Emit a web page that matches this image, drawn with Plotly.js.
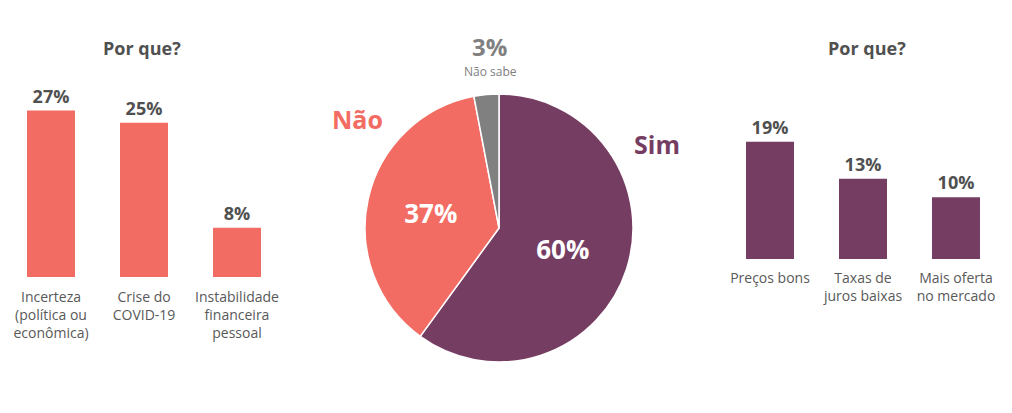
<!DOCTYPE html>
<html>
<head>
<meta charset="utf-8">
<script src="https://cdn.plot.ly/plotly-3.0.1.min.js"></script>
<style>html,body{margin:0;padding:0;background:#fff;}#chart{width:1012px;height:413px;}</style>
</head>
<body>
<div id="chart"></div>
<script>
// ---- data ----
const leftTitle = 'Por que?';
const leftCategories = ['Incerteza<br>(política ou<br>econômica)', 'Crise do<br>COVID-19', 'Instabilidade<br>financeira<br>pessoal'];
const leftValues = [27, 25, 8];

const pieLabels = ['Sim', 'Não', 'Não sabe'];
const pieValues = [60, 37, 3];

const rightTitle = 'Por que?';
const rightCategories = ['Preços bons', 'Taxas de<br>juros baixas', 'Mais oferta<br>no mercado'];
const rightValues = [19, 13, 10];

// ---- styles ----
const SALMON = '#F26C63';
const PURPLE = '#763D63';
const GREY = '#808080';
const DARK = '#505050';
const FONT = 'Open Sans, sans-serif';
const W = 1012, H = 413;
const px = v => v / W;
const py = v => (H - v) / H;

const traces = [
  {
    type: 'bar', x: leftCategories, y: leftValues, xaxis: 'x', yaxis: 'y',
    marker: {color: SALMON}, texttemplate: '%{y}%', textposition: 'outside',
    textfont: {family: FONT, size: 18, color: DARK, weight: 'bold'},
    cliponaxis: false, hoverinfo: 'skip'
  },
  {
    type: 'bar', x: rightCategories, y: rightValues, xaxis: 'x2', yaxis: 'y2',
    marker: {color: PURPLE}, texttemplate: '%{y}%', textposition: 'outside',
    textfont: {family: FONT, size: 18, color: DARK, weight: 'bold'},
    cliponaxis: false, hoverinfo: 'skip'
  },
  {
    type: 'pie', labels: pieLabels, values: pieValues, sort: false,
    direction: 'clockwise', rotation: 0,
    marker: {colors: [PURPLE, SALMON, GREY], line: {color: '#ffffff', width: 1.5}},
    texttemplate: '%{value}%', textposition: ['inside', 'inside', 'none'],
    insidetextorientation: 'horizontal',
    textfont: {family: FONT, size: 26, color: '#ffffff', weight: 'bold'},
    domain: {x: [px(365), px(633)], y: [py(362), py(94)]},
    showlegend: false, hoverinfo: 'skip'
  }
];

const axisX = {
  type: 'category', showgrid: false, zeroline: false, showline: false, ticks: '',
  tickfont: {family: FONT, size: 14, color: '#595959'}, fixedrange: true
};
const axisY = {showgrid: false, zeroline: false, showline: false, showticklabels: false, range: [0, 30], fixedrange: true};

function ann(text, x, y, size, color, weight) {
  return {text: text, x: px(x), y: py(y), xref: 'paper', yref: 'paper', showarrow: false,
          xanchor: 'center', yanchor: 'middle',
          font: {family: FONT, size: size, color: color, weight: weight || 'normal'}};
}

const layout = {
  width: W, height: H,
  margin: {l: 0, r: 0, t: 0, b: 0},
  paper_bgcolor: '#ffffff', plot_bgcolor: 'rgba(0,0,0,0)',
  showlegend: false, bargap: 0.484,
  font: {family: FONT},
  xaxis: Object.assign({}, axisX, {domain: [px(4.5), px(283.5)], anchor: 'y', range: [-0.5, 2.5], ticklabelstandoff: 10}),
  yaxis: Object.assign({}, axisY, {domain: [py(277), py(92)], anchor: 'x'}),
  xaxis2: Object.assign({}, axisX, {domain: [px(723.5), px(1002.5)], anchor: 'y2', range: [-0.5, 2.5], ticklabelstandoff: 9}),
  yaxis2: Object.assign({}, axisY, {domain: [py(259), py(74)], anchor: 'x2'}),
  annotations: [
    ann(leftTitle, 141.5, 48, 18, DARK, 'bold'),
    ann(rightTitle, 866.5, 48, 18, DARK, 'bold'),
    ann(pieLabels[0], 657, 144, 25, PURPLE, 'bold'),
    ann(pieLabels[1], 357, 119, 25, SALMON, 'bold'),
    ann(pieValues[2] + '%', 489, 47, 24, GREY, 'bold'),
    ann(pieLabels[2], 490, 71, 12, GREY)
  ]
};

Plotly.newPlot('chart', traces, layout, {staticPlot: true, displayModeBar: false});
</script>
</body>
</html>
